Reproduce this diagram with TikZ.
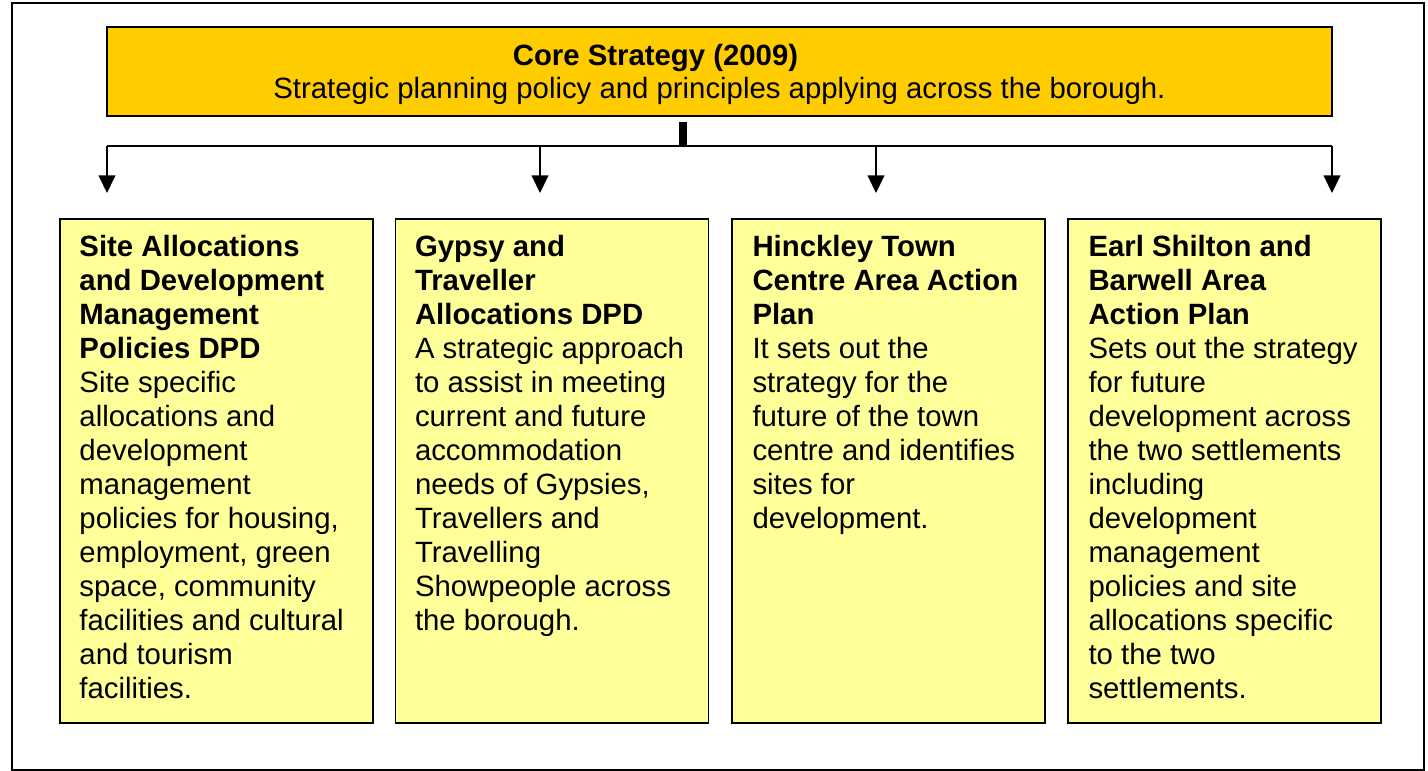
\documentclass[tikz,border=0pt]{standalone}
\usepackage{fontspec}
\setmainfont{Liberation Sans}
\usepackage{xcolor}
\usetikzlibrary{positioning,arrows.meta}

\definecolor{coreyellow}{HTML}{FFCC00}
\definecolor{planyellow}{HTML}{FFFF99}

\begin{document}
\begin{tikzpicture}[x=0.02cm,y=-0.02cm,
	core/.style={
		draw, line width=1pt, fill=coreyellow,
		minimum width=24.5cm, minimum height=1.78cm
	},
	coretext/.style={
		align=center, inner sep=0pt,
		font=\fontsize{16.7}{18.8}\selectfont
	},
	plan/.style={
		draw, line width=1pt, fill=planyellow, anchor=north,
		minimum width=6.26cm, minimum height=10.08cm
	},
	plantext/.style={
		anchor=north west, align=left, inner sep=0pt,
		font=\fontsize{16.7}{19.35}\selectfont
	},
	link/.style={line width=0.8pt, -{Triangle[width=9.5pt,length=10pt]}}
	]
	% outer frame fixes the size of the page
	\draw[line width=0.6pt] (12,3) rectangle (1424,770);
	\useasboundingbox (0,0) rectangle (1428,771);
	
	% top box
	\node[core] (cs) at (719.5,71.5) {};
	\node[coretext] (cst) at ([yshift=-0.05cm]cs.center)
		{\textbf{Core Strategy (2009)}\hspace*{2.56cm}\\
		 Strategic planning policy and principles applying across the borough.};
	
	% the four plans below it
	\node[plan] (sa) at (216.5,218) {};
	\node[plan] (gt) at (552,218) {};
	\node[plan] (hc) at (888.5,218) {};
	\node[plan] (eb) at (1224.5,218) {};
	
	\node[plantext] (sat) at ([xshift=0.4cm,yshift=-0.34cm]sa.north west)
		{\textbf{Site Allocations}\\ \textbf{and Development}\\ \textbf{Management}\\ \textbf{Policies DPD}\\
		 Site specific\\ allocations and\\ development\\ management\\ policies for housing,\\
		 employment, green\\ space, community\\ facilities and cultural\\ and tourism\\ facilities.};
	\node[plantext] (gtt) at ([xshift=0.4cm,yshift=-0.34cm]gt.north west)
		{\textbf{Gypsy and}\\ \textbf{Traveller}\\ \textbf{Allocations DPD}\\
		 A strategic approach\\ to assist in meeting\\ current and future\\ accommodation\\
		 needs of Gypsies,\\ Travellers and\\ Travelling\\ Showpeople across\\ the borough.};
	\node[plantext] (hct) at ([xshift=0.42cm,yshift=-0.34cm]hc.north west)
		{\textbf{Hinckley Town}\\ \textbf{Centre Area Action}\\ \textbf{Plan}\\
		 It sets out the\\ strategy for the\\ future of the town\\ centre and identifies\\
		 sites for\\ development.};
	\node[plantext] (ebt) at ([xshift=0.42cm,yshift=-0.34cm]eb.north west)
		{\textbf{Earl Shilton and}\\ \textbf{Barwell Area}\\ \textbf{Action Plan}\\
		 Sets out the strategy\\ for future\\ development across\\ the two settlements\\
		 including\\ development\\ management\\ policies and site\\ allocations specific\\
		 to the two\\ settlements.};
	
	% connector: stub, bus and drops
	\coordinate (stub) at (683,122);
	\coordinate (bus) at (683,146);
	\draw[line width=4.5pt] (stub) -- (bus);
	\draw[line width=0.8pt] (107,146) -- (1332,146);
	\foreach \x/\n in {107/sa, 540/gt, 876/hc, 1332/eb} {
		\coordinate (\n-in) at (\x,193);
		\draw[link] (\x,146) -- (\n-in);
	}
\end{tikzpicture}
\end{document}
